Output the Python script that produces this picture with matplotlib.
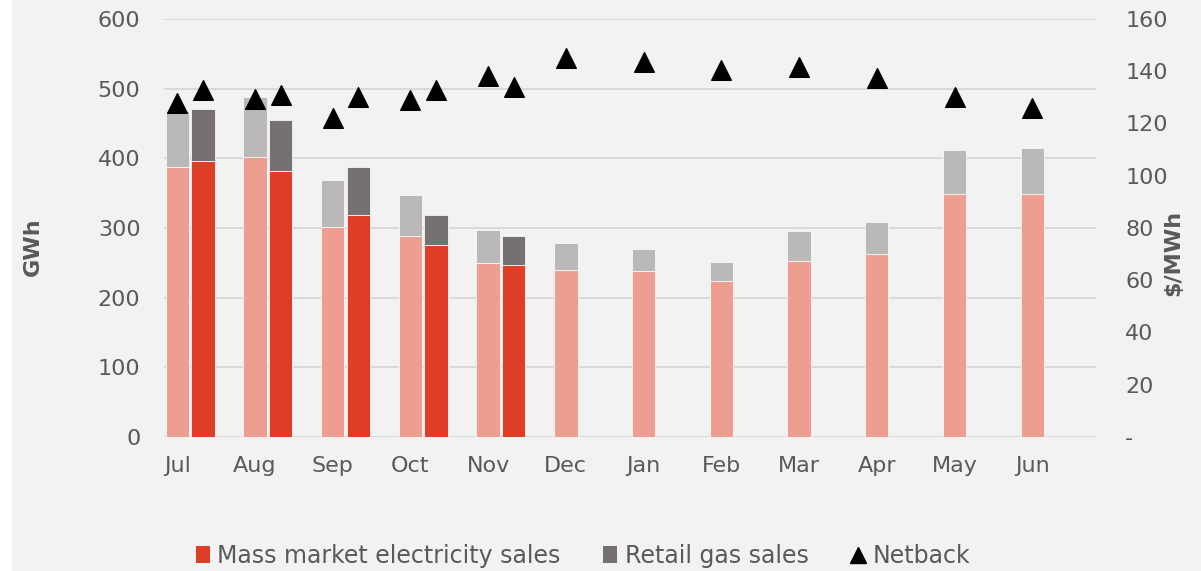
import matplotlib
matplotlib.use('Agg')
import matplotlib.pyplot as plt
import numpy as np
from matplotlib.lines import Line2D
from matplotlib.patches import Patch, Rectangle

months = ['Jul', 'Aug', 'Sep', 'Oct', 'Nov', 'Dec', 'Jan', 'Feb', 'Mar', 'Apr', 'May', 'Jun']

# prior year (light bars), all 12 months
elec_prev = [387, 402, 301, 288, 250, 240, 238, 224, 253, 263, 349, 349]
gas_prev = [81, 86, 68, 60, 47, 38, 32, 27, 43, 45, 63, 66]
netback_prev = [128, 129.5, 122, 129, 138, 145, 143.5, 140.5, 141.5, 137.5, 130, 126]

# current year (dark bars), Jul-Nov only
elec_cur = [396, 382, 318, 275, 247]
gas_cur = [75, 73, 70, 44, 42]
netback_cur = [133, 131, 130, 133, 134]

c_elec_prev = '#ED9E91'
c_gas_prev = '#BAB8B8'
c_elec_cur = '#DE3E25'
c_gas_cur = '#767170'
bg = '#F2F2F2'
txt = '#595959'

plt.rcParams['font.family'] = ['DejaVu Sans']

fig = plt.figure(figsize=(12.01, 5.71), dpi=100, facecolor='white')
fig.patches.append(Rectangle((12/1201, 0), 1, 1, transform=fig.transFigure,
                             facecolor=bg, edgecolor='none', zorder=-10))
ax = fig.add_axes([164/1201, 1-437/571, (1096-164)/1201, (437-19)/571])
ax.set_facecolor(bg)

x = np.arange(len(months))
xc = np.arange(len(elec_cur))
w = 0.30
off = 0.33

ax.bar(x, elec_prev, w, color=c_elec_prev, edgecolor='#f7f7f7', linewidth=0.6, zorder=3)
ax.bar(x, gas_prev, w, bottom=elec_prev, color=c_gas_prev, edgecolor='#f7f7f7', linewidth=0.6, zorder=3)
ax.bar(xc+off, elec_cur, w, color=c_elec_cur, edgecolor='#f7f7f7', linewidth=0.6, zorder=3)
ax.bar(xc+off, gas_cur, w, bottom=elec_cur, color=c_gas_cur, edgecolor='#f7f7f7', linewidth=0.6, zorder=3)

ax.set_ylim(0, 600)
ax.set_yticks(np.arange(0, 601, 100))
ax.set_xlim(-0.17, 11.82)
ax.set_xticks(x)
ax.set_xticklabels(months)
ax.grid(True, axis='y', color='#D9D9D9', linewidth=1.4, zorder=0)
ax.set_axisbelow(True)
for s in ax.spines.values():
    s.set_visible(False)
ax.tick_params(axis='both', length=0, labelsize=16, labelcolor=txt)
ax.tick_params(axis='y', pad=17)
ax.tick_params(axis='x', pad=14)

ax2 = ax.twinx()
ax2.set_ylim(0, 160)
ax2.set_yticks(np.arange(0, 161, 20))
ax2.set_yticklabels(['-'] + [str(v) for v in range(20, 161, 20)])
ax2.scatter(x, netback_prev, marker='^', s=200, color='black', zorder=5)
ax2.scatter(xc+off, netback_cur, marker='^', s=200, color='black', zorder=5)
for s in ax2.spines.values():
    s.set_visible(False)
ax2.tick_params(axis='y', length=0, labelsize=16, labelcolor=txt, pad=21)

fig.text(33/1201, 1-247/571, 'GWh', rotation=90, ha='center', va='center',
         fontsize=16, fontweight='bold', color=txt)
fig.text(1173/1201, 1-253/571, r'\$/MWh', rotation=90, ha='center', va='center',
         fontsize=16, fontweight='bold', color=txt)

handles = [Patch(facecolor=c_elec_cur), Patch(facecolor=c_gas_cur),
           Line2D([], [], marker='^', color='black', linestyle='none', markersize=11)]
labels = ['Mass market electricity sales', 'Retail gas sales', 'Netback']
leg = fig.legend(handles, labels, loc='center', bbox_to_anchor=(583/1201, 1-556/571),
                 ncol=3, frameon=False, fontsize=17, handlelength=0.6, handleheight=0.7,
                 handletextpad=0.3, columnspacing=1.8, labelcolor=txt)

fig.savefig('out.png', dpi=100, facecolor=fig.get_facecolor())
